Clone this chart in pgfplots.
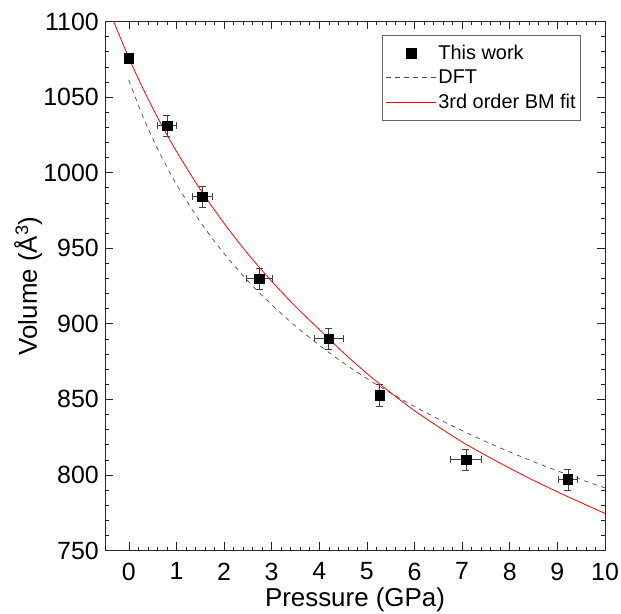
\documentclass[border=0pt]{standalone}
\usepackage{pgfplots}
\pgfplotsset{compat=1.18}
\usepackage{pgfplotstable}
\usepackage{fontspec}
\setmainfont{Liberation Sans}

\pgfplotstableread{
x     y       ex    ey
0.00  1075.6  0.00  0.0
0.80  1031.0  0.20  7.0
1.54  984.0   0.21  7.0
2.74  929.8   0.28  7.0
4.20  890.1   0.30  7.0
5.27  852.8   0.10  7.4
7.08  810.1   0.33  7.0
9.22  797.0   0.19  7.0
}\exptable

\pgfplotstableread{
x     y
-0.35 1102.6
-0.30 1098.6
0.00  1076.0
0.25  1058.8
0.50  1042.8
0.75  1028.0
1.00  1014.1
1.50  988.9
2.00  966.5
2.50  946.3
3.00  928.1
3.50  911.5
4.00  896.2
4.50  881.1
5.00  867.1
5.50  854.4
6.00  842.5
6.50  831.9
7.00  821.8
7.50  812.9
8.00  804.4
8.50  796.4
9.00  788.8
9.50  781.6
10.00 774.5
}\bmtable

\pgfplotstableread{
x     y
0.00  1061.3
0.25  1040.7
0.50  1022.7
0.75  1006.7
1.00  992.3
1.50  967.5
2.00  946.5
2.50  928.4
3.00  912.6
3.50  898.5
4.00  885.8
4.50  874.3
5.00  863.8
5.50  854.2
6.00  845.3
6.50  837.0
7.00  829.3
7.50  822.0
8.00  815.2
8.50  808.8
9.00  802.7
9.50  796.9
10.00 791.4
}\dfttable

\begin{document}
\begin{tikzpicture}
\begin{axis}[
  width=500bp, height=529bp, scale only axis,
  xmin=-0.5, xmax=10, ymin=750, ymax=1100,
  xtick={0,1,...,10}, ytick={750,800,...,1100},
  minor x tick num=4, minor y tick num=4,
  tick align=inside,
  major tick length=8bp, minor tick length=4bp,
  axis line style={black!85, line width=0.8bp},
  tick style={black!85, line width=0.6bp},
  /pgf/number format/assume math mode=true,
  /pgf/number format/1000 sep={},
  ticklabel style={font=\fontsize{25}{30}\selectfont, inner sep=0pt},
  x tick label style={yshift=-12bp},
  y tick label style={xshift=-6bp},
  xlabel={Pressure (GPa)},
  ylabel={Volume (Å\textsuperscript{3})},
  label style={font=\fontsize{26}{31}\selectfont, inner sep=0pt},
  xlabel style={at={(axis description cs:0.5,-0.106)}, anchor=base},
  ylabel style={at={(axis description cs:-0.136,0.5)}, anchor=base, rotate=0},
  legend style={at={(rel axis cs:0.952,0.9745)}, anchor=north east,
    draw=black!60, line width=0.6bp, font=\fontsize{20}{24}\selectfont,
    inner xsep=3bp, inner ysep=8bp, row sep=5bp},
  legend cell align=left,
  legend image code/.code={\draw[mark repeat=2,mark phase=2,#1] plot coordinates {(0bp,0bp) (25bp,0bp) (50bp,0bp)};},
]
\addplot[only marks, mark=square*, mark size=4.8bp, black, mark options={fill=black},
  error bars/.cd, x dir=both, x explicit, y dir=both, y explicit,
  error bar style={black!75, line width=0.7bp},
  error mark options={rotate=90, mark size=3.5bp, black!75, line width=0.7bp}]
  table[x=x, y=y, x error=ex, y error=ey] {\exptable};
\addlegendentry{This work}
\addplot[black!70, line width=0.7bp, dash pattern=on 4.5bp off 4.5bp, smooth] table[x=x,y=y] {\dfttable};
\addlegendentry{DFT}
\addplot[red, line width=0.8bp, smooth] table[x=x,y=y] {\bmtable};
\addlegendentry{3rd order BM fit}
\coordinate (sw) at (rel axis cs:0,0);
\end{axis}
\path (sw) ++(-105bp,-63.5bp) rectangle ++(621bp,614bp);
\end{tikzpicture}
\end{document}
